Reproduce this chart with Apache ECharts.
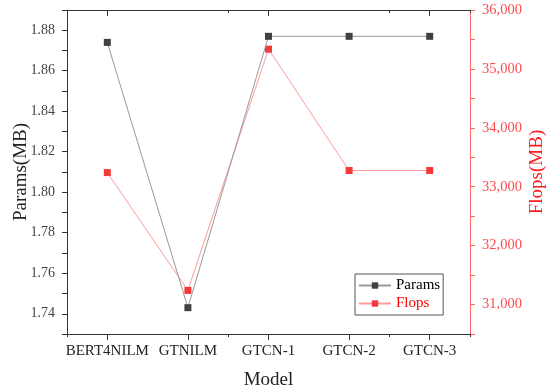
<!DOCTYPE html>
<html><head><meta charset="utf-8">
<script src="https://cdn.jsdelivr.net/npm/echarts@6/dist/echarts.min.js"></script>
<style>html,body{margin:0;padding:0;background:#fff}#c{width:550px;height:392px}</style>
</head><body><div id="c"></div>
<script>
var categories = ['BERT4NILM', 'GTNILM', 'GTCN-1', 'GTCN-2', 'GTCN-3'];
var paramsValues = [1.874, 1.743, 1.877, 1.877, 1.877];
var flopsValues = [33240, 31240, 35335, 33275, 33275];

var FONT = 'Liberation Serif';
var chart = echarts.init(document.getElementById('c'));
function baseX(extra) {
  return Object.assign({
    type: 'category', data: categories, boundaryGap: true,
    axisLine: {show: false}, axisLabel: {show: false},
    splitLine: {show: false}
  }, extra);
}
chart.setOption({
  animation: false,
  backgroundColor: '#fff',
  grid: {left: 67, right: 80, top: 10, bottom: 58, containLabel: false, outerBoundsMode: 'none'},
  legend: {
    left: 355, top: 274, orient: 'vertical',
    padding: [4, 3, 4, 3], itemGap: 3, itemWidth: 32, itemHeight: 8,
    borderColor: '#555', borderWidth: 1,
    textStyle: {fontFamily: FONT, fontSize: 15},
    data: [
      {name: 'Params', textStyle: {color: '#000'}},
      {name: 'Flops', textStyle: {color: '#ff0000'}}
    ]
  },
  xAxis: [
    baseX({position: 'bottom', name: 'Model', nameLocation: 'middle', nameGap: 37, nameMoveOverlap: false,
      nameTextStyle: {fontFamily: FONT, fontSize: 19, color: '#222'},
      axisLine: {show: true, lineStyle: {color: '#333', width: 1}},
      axisTick: {show: true, alignWithLabel: true, length: 6, lineStyle: {color: '#333'}},
      axisLabel: {show: true, interval: 0, margin: 10, fontFamily: FONT, fontSize: 15, color: '#222'}}),
    baseX({position: 'bottom',
      axisTick: {show: true, length: 3, lineStyle: {color: '#333'}}}),
    baseX({position: 'top',
      axisLine: {show: true, lineStyle: {color: '#333', width: 1}},
      axisTick: {show: true, inside: true, alignWithLabel: true, length: 6, lineStyle: {color: '#333'}}}),
    baseX({position: 'top',
      axisTick: {show: true, inside: true, length: 3, lineStyle: {color: '#333'}}})
  ],
  yAxis: [
    {type: 'value', position: 'left', min: 1.73, max: 1.89, interval: 0.01,
      name: 'Params(MB)', nameLocation: 'middle', nameGap: 36, nameRotate: 90, nameMoveOverlap: false,
      nameTextStyle: {fontFamily: FONT, fontSize: 19, color: '#222'},
      axisLine: {show: true, lineStyle: {color: '#333'}},
      axisTick: {show: true, length: 5, lineStyle: {color: '#333'}},
      splitLine: {show: false},
      axisLabel: {margin: 12, fontFamily: FONT, fontSize: 14, color: '#444',
        formatter: function (v) { var k = Math.round(v * 100); return k % 2 === 0 ? (k / 100).toFixed(2) : ''; }}},
    {type: 'value', position: 'right', min: 30500, max: 36000, interval: 500,
      name: 'Flops(MB)', nameLocation: 'middle', nameGap: 58, nameRotate: 90, nameMoveOverlap: false,
      nameTextStyle: {fontFamily: FONT, fontSize: 19, color: '#ff1a1a'},
      axisLine: {show: true, lineStyle: {color: '#ff6666'}},
      axisTick: {show: true, length: 5, lineStyle: {color: '#ff6666'}},
      splitLine: {show: false},
      axisLabel: {margin: 12, fontFamily: FONT, fontSize: 14.5, color: '#ff4d4d',
        formatter: function (v) { return Math.round(v) % 1000 === 0 ? String(Math.round(v)).replace(/\B(?=(\d{3})+(?!\d))/g, ',') : ''; }}}
  ],
  series: [
    {name: 'Params', type: 'line', xAxisIndex: 0, yAxisIndex: 0, data: paramsValues,
      symbol: 'rect', symbolSize: 7, z: 3,
      itemStyle: {color: '#404040'}, lineStyle: {color: '#999', width: 1}},
    {name: 'Flops', type: 'line', xAxisIndex: 0, yAxisIndex: 1, data: flopsValues,
      symbol: 'rect', symbolSize: 7, z: 2,
      itemStyle: {color: '#f23a3a'}, lineStyle: {color: '#ff9a9a', width: 1}}
  ]
});
</script></body></html>
